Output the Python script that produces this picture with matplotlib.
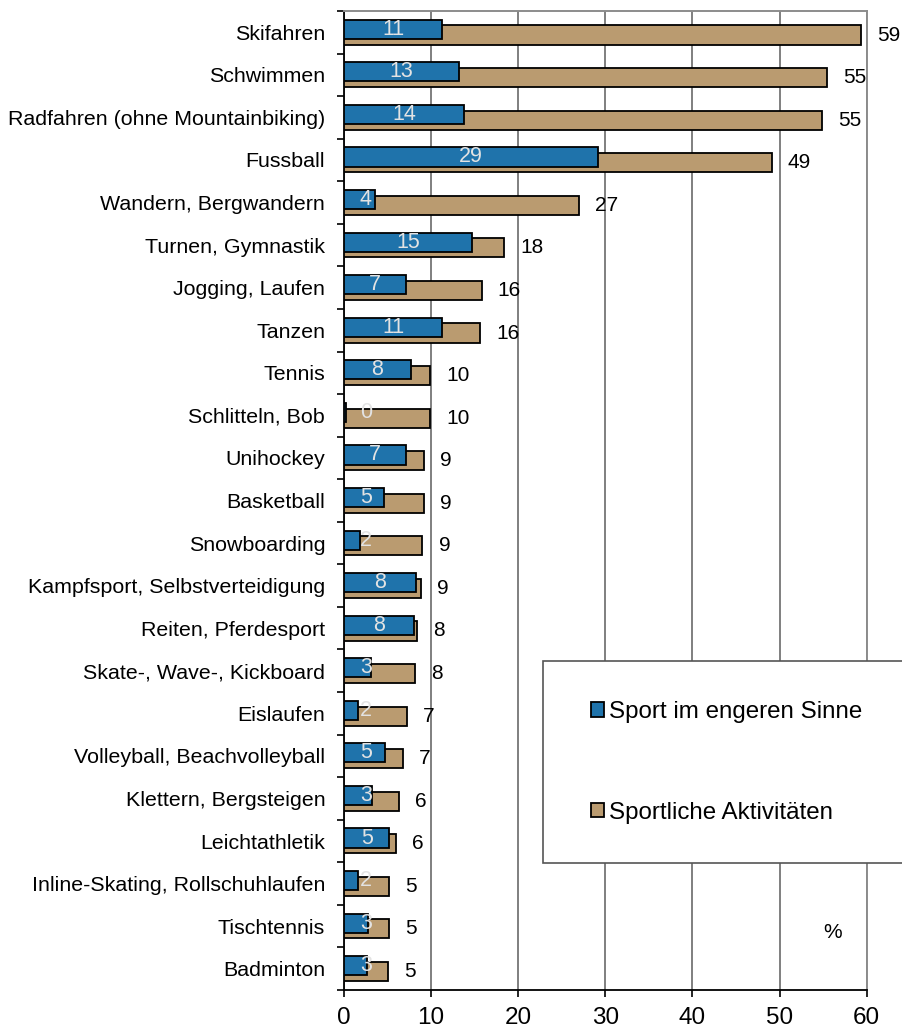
import numpy as np
import matplotlib.pyplot as plt
from matplotlib.patches import Patch, Rectangle
from matplotlib.ticker import FixedLocator

plt.rcParams['font.family'] = ['Liberation Sans', 'DejaVu Sans']

categories = [
    "Skifahren", "Schwimmen", "Radfahren (ohne Mountainbiking)", "Fussball",
    "Wandern, Bergwandern", "Turnen, Gymnastik", "Jogging, Laufen", "Tanzen",
    "Tennis", "Schlitteln, Bob", "Unihockey", "Basketball", "Snowboarding",
    "Kampfsport, Selbstverteidigung", "Reiten, Pferdesport",
    "Skate-, Wave-, Kickboard", "Eislaufen", "Volleyball, Beachvolleyball",
    "Klettern, Bergsteigen", "Leichtathletik",
    "Inline-Skating, Rollschuhlaufen", "Tischtennis", "Badminton",
]
# Sport im engeren Sinne (%)
sport_eng = [11.3, 13.2, 13.8, 29.1, 3.6, 14.7, 7.1, 11.3, 7.7, 0.2, 7.1, 4.6,
             1.8, 8.3, 8.0, 3.1, 1.6, 4.7, 3.2, 5.2, 1.6, 2.8, 2.6]
# Sportliche Aktivitäten (%)
aktiv = [59.3, 55.4, 54.9, 49.1, 27.0, 18.4, 15.8, 15.6, 9.9, 9.9, 9.2, 9.2,
         9.0, 8.8, 8.4, 8.2, 7.2, 6.8, 6.3, 6.0, 5.2, 5.2, 5.1]

blue = '#1F73AB'
tan = '#BA9B70'

fig = plt.figure(figsize=(9.03, 10.29), dpi=100)
ax = fig.add_axes([344 / 903, 1 - 990 / 1029, (866.7 - 344) / 903, (990 - 11) / 1029])

y = np.arange(len(categories))
h = 0.45
ax.barh(y + 0.065, aktiv, height=h, color=tan, edgecolor='black', linewidth=1.3, zorder=3)
ax.barh(y - 0.07, sport_eng, height=h, color=blue, edgecolor='black', linewidth=1.3, zorder=4)

for yi, v in zip(y, aktiv):
    ax.text(v + 1.85, yi + 0.065, f"{v:.0f}", ha='left', va='center', fontsize=15, zorder=5)
for yi, v in zip(y, sport_eng):
    ax.text(max(v / 2, 2.5), yi - 0.07, f"{v:.0f}", ha='center', va='center',
            fontsize=15.5, color='#E3E3E3', zorder=5)

ax.set_xlim(0, 60)
ax.set_ylim(len(categories) - 0.5, -0.5)
ax.set_xticks(np.arange(0, 61, 10))
ax.tick_params(axis='x', labelsize=17.5, length=5, width=1.2, pad=7.5, color='black')
ax.set_yticks(y)
ax.set_yticklabels(categories, fontsize=15.4)
ax.tick_params(axis='y', which='major', length=0, pad=13.5)
ax.yaxis.set_minor_locator(FixedLocator(np.arange(-0.5, len(categories), 1)))
ax.tick_params(axis='y', which='minor', length=5, width=1.2, color='black')

ax.grid(axis='x', color='#7F7F7F', linewidth=1.4, zorder=0)
ax.set_axisbelow(True)
for side in ['top', 'right']:
    ax.spines[side].set_color('#8C8C8C')
    ax.spines[side].set_linewidth(1.4)
for side in ['left', 'bottom']:
    ax.spines[side].set_color('black')
    ax.spines[side].set_linewidth(1.3)

ax.text(0.935, 0.059, '%', transform=ax.transAxes, ha='center', va='center', fontsize=15)

# legend frame runs off the right edge of the figure
fig.patches.append(Rectangle((543 / 903, 1 - 863 / 1029), 0.5, (863 - 661) / 1029,
                             transform=fig.transFigure, facecolor='white',
                             edgecolor='#555555', linewidth=1.2, zorder=10))
handles = [Patch(facecolor=blue, edgecolor='black', linewidth=1.3),
           Patch(facecolor=tan, edgecolor='black', linewidth=1.3)]
leg = fig.legend(handles, ['Sport im engeren Sinne', 'Sportliche Aktivitäten'],
                 loc='center left', bbox_to_anchor=(591 / 903, 1 - 762.3 / 1029),
                 frameon=False, fontsize=17.4, handlelength=0.55, handleheight=0.55,
                 handletextpad=0.2, labelspacing=3.25, borderpad=0, borderaxespad=0)
leg.set_zorder(11)

fig.savefig('out.png', dpi=100)
